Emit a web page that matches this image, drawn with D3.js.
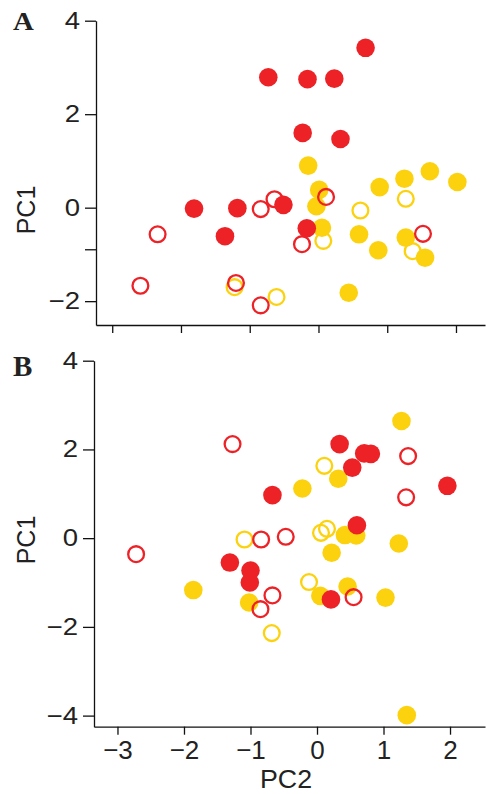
<!DOCTYPE html>
<html><head><meta charset="utf-8">
<script src="https://cdn.jsdelivr.net/npm/d3@7"></script>
<style>body{margin:0;background:#fff}svg{display:block}</style>
</head><body>
<script>
// ---------- data ----------
// Panel A
const aRedFilled = [[0.685,3.42],[-0.73,2.79],[-0.16,2.75],[0.23,2.76],[-0.23,1.60],[0.32,1.47],[-1.81,-0.02],[-1.18,-0.01],[-0.51,0.06],[-1.36,-0.61],[-0.17,-0.44]];
const aYellowFilled = [[-0.15,0.90],[0.01,0.38],[-0.03,0.03],[0.05,-0.43],[0.89,0.44],[1.25,0.62],[1.62,0.78],[2.02,0.55],[0.59,-0.57],[0.87,-0.91],[1.27,-0.64],[1.55,-1.07],[0.44,-1.82]];
const aRedOpen = [[-2.34,-0.57],[-2.59,-1.67],[-0.64,0.18],[-0.84,-0.03],[0.11,0.23],[-0.24,-0.78],[1.52,-0.56],[-1.20,-1.61],[-0.84,-2.09]];
const aYellowOpen = [[0.61,-0.06],[1.27,0.19],[0.07,-0.71],[1.37,-0.93],[-1.22,-1.70],[-0.61,-1.91]];
// Panel B
const bYellowFilled = [[1.27,2.64],[-0.22,1.12],[0.32,1.34],[0.42,0.07],[0.59,0.06],[0.22,-0.33],[1.23,-0.12],[-1.86,-1.17],[-1.02,-1.45],[0.05,-1.30],[0.46,-1.09],[1.03,-1.34],[1.35,-3.99]];
const bRedFilled = [[0.34,2.12],[0.71,1.91],[0.81,1.90],[0.53,1.59],[-0.67,0.97],[0.60,0.29],[-1.31,-0.55],[-1.00,-0.73],[-1.01,-1.00],[0.21,-1.38],[1.96,1.18]];
const bRedOpen = [[-1.27,2.12],[1.37,1.85],[1.34,0.92],[-2.72,-0.36],[-0.84,-0.03],[-0.47,0.03],[-0.67,-1.29],[-0.85,-1.60],[0.55,-1.33]];
const bYellowOpen = [[0.11,1.63],[-1.09,-0.03],[0.06,0.12],[0.15,0.21],[-0.12,-0.99],[-0.68,-2.14]];
// ticks
const xTicks = [-3,-2,-1,0,1,2];
const yTicksA = [-2,-0.89,0,2,4];
const yTickLabelsA = ["−2","","0","2","4"];
const yTicksB = [-4,-2,0,2,4];
const panelLabels = ["A","B"];
const xTitle = "PC2", yTitle = "PC1";

// ---------- drawing ----------
const RED = "#ED2227", YEL = "#FCD20F";
const W = 486, H = 794;
const SANS = "Liberation Sans, Arial, sans-serif";
const svg = d3.select("body").append("svg").attr("width", W).attr("height", H);

function stretch(sel, k) {
  sel.each(function() {
    if (!this.textContent) return;
    const L = this.getComputedTextLength();
    d3.select(this).attr("textLength", L * k).attr("lengthAdjust", "spacingAndGlyphs");
  });
}

function panel(cfg) {
  const g = svg.append("g");
  const x = d3.scaleLinear().domain(cfg.xd).range(cfg.xr);
  const y = d3.scaleLinear().domain(cfg.yd).range(cfg.yr);
  const layers = [[cfg.yf, YEL, true],[cfg.rf, RED, true],[cfg.yo, YEL, false],[cfg.ro, RED, false]];
  layers.forEach(([data, col, filled]) => {
    g.append("g").selectAll("circle").data(data).join("circle")
      .attr("cx", d => x(d[0])).attr("cy", d => y(d[1]))
      .attr("r", filled ? 9.3 : 7.9)
      .attr("fill", filled ? col : "none")
      .attr("stroke", filled ? "none" : col)
      .attr("stroke-width", filled ? 0 : 2.3);
  });
  const yAx = d3.axisLeft(y).tickValues(cfg.yt).tickSize(11).tickPadding(5).tickSizeOuter(0)
    .tickFormat((d,i) => cfg.ytl ? cfg.ytl[i] : d3.format("")(d));
  const gy = g.append("g").attr("transform", `translate(${cfg.xr[0]},0)`).call(yAx);
  const xAx = d3.axisBottom(x).tickValues(xTicks).tickSize(8).tickPadding(6).tickSizeOuter(0)
    .tickFormat(cfg.xlabels ? d3.format("") : () => "");
  const gx = g.append("g").attr("transform", `translate(0,${cfg.yr[0]})`).call(xAx);
  [gy, gx].forEach(a => {
    a.selectAll("path,line").attr("stroke", "#111").attr("stroke-width", 1.3);
    a.selectAll("text").attr("font-family", SANS).attr("fill", "#222");
  });
  gy.selectAll("text").attr("font-size", 23.5);
  stretch(gy.selectAll("text"), 1.17);
  gx.selectAll("text").attr("font-size", 26);

  const lab = g.append("text").text(cfg.label).attr("x", 13).attr("y", cfg.labelY)
    .attr("font-family", "Liberation Serif, Times New Roman, serif").attr("font-weight", "bold")
    .attr("font-size", cfg.labelSize).attr("fill", "#222");
  stretch(lab, cfg.labelStretch);
  g.append("text").text(yTitle)
    .attr("transform", `translate(35,${cfg.yTitleY}) rotate(-90)`)
    .attr("text-anchor", "middle").attr("font-family", SANS)
    .attr("font-size", 25).attr("fill", "#222");
  if (cfg.xlabels) {
    const t = g.append("text").text(xTitle).attr("x", 286).attr("y", 788).attr("text-anchor", "middle")
      .attr("font-family", SANS).attr("font-size", 25).attr("fill", "#222");
    stretch(t, 1.07);
  }
}

panel({xd:[-3.236,2.422], xr:[96,485], yd:[-2.51,4], yr:[325,20.7],
  yf:aYellowFilled, rf:aRedFilled, yo:aYellowOpen, ro:aRedOpen,
  yt:yTicksA, ytl:yTickLabelsA, xlabels:false, label:panelLabels[0], labelY:29.5, labelSize:25, labelStretch:1.15, yTitleY:210});
panel({xd:[-3.353,2.526], xr:[94,485], yd:[-4.25,4], yr:[726.7,360.7],
  yf:bYellowFilled, rf:bRedFilled, yo:bYellowOpen, ro:bRedOpen,
  yt:yTicksB, ytl:null, xlabels:true, label:panelLabels[1], labelY:376, labelSize:29, labelStretch:1.0, yTitleY:540});
</script>
</body></html>
